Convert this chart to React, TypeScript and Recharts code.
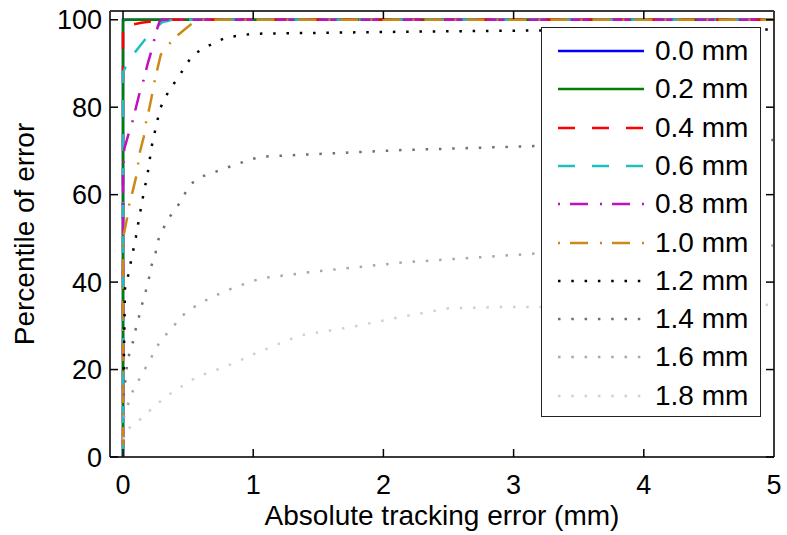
import { Line, LineChart, XAxis, YAxis } from "recharts";

const FONT = '"Liberation Sans", Arial, Helvetica, sans-serif';

const X_TICKS = [0, 1, 2, 3, 4, 5];
const Y_TICKS = [0, 20, 40, 60, 80, 100];

// [absolute tracking error (mm), percentile]
const ERR_00: [number, number][] = [[0, 0], [0, 100], [5, 100]];
const ERR_02: [number, number][] = [[0, 0], [0, 99.8], [0.02, 100], [5, 100]];
const ERR_04: [number, number][] = [[0, 0], [0, 98.5], [0.14, 99.3], [0.27, 99.8], [0.3, 100], [5, 100]];
const ERR_06: [number, number][] = [
  [0, 0], [0, 88], [0.05, 91], [0.13, 94], [0.21, 97], [0.3, 99.4], [0.38, 100], [5, 100],
];
const ERR_08: [number, number][] = [
  [0, 0], [0, 65], [0.01, 70.5], [0.04, 73.6], [0.07, 76.4], [0.1, 80], [0.125, 83],
  [0.156, 86], [0.19, 90], [0.21, 92], [0.26, 97.7], [0.28, 99.6], [0.3, 100], [5, 100],
];
const ERR_10: [number, number][] = [
  [0, 0], [0, 50], [0.03, 54.5], [0.046, 57.5], [0.08, 61.5], [0.1, 64], [0.13, 69.8],
  [0.16, 73.3], [0.175, 76.3], [0.2, 79.5], [0.22, 82.4], [0.24, 85.6], [0.27, 89.5],
  [0.29, 92], [0.35, 94.3], [0.41, 96.2], [0.52, 98.9], [0.58, 100], [5, 100],
];
const ERR_12: [number, number][] = [
  [0.005, 20], [0.015, 38.5], [0.04, 41.6], [0.06, 44.6], [0.08, 47.5], [0.1, 50.5],
  [0.12, 54], [0.135, 56.5], [0.15, 59], [0.19, 65], [0.22, 71], [0.26, 76.5], [0.29, 80],
  [0.32, 82], [0.37, 84.6], [0.43, 87], [0.48, 89.6], [0.54, 92], [0.62, 93.5], [0.72, 95],
  [0.8, 96], [1, 96.8], [2, 97.2], [3, 97.5], [5, 97.8],
];
const ERR_14: [number, number][] = [
  [0.005, 14], [0.03, 21], [0.05, 23.8], [0.08, 26.7], [0.1, 29.6], [0.125, 32.4],
  [0.15, 35.3], [0.175, 38], [0.2, 41], [0.22, 43.9], [0.25, 46.7], [0.27, 49.6],
  [0.31, 52.3], [0.36, 55], [0.42, 57.4], [0.47, 60], [0.52, 62.4], [0.59, 64],
  [0.69, 65], [0.78, 66], [0.88, 67], [0.97, 68], [1.07, 68.7], [1.5, 69.3],
  [2.15, 70.2], [3.15, 71.1], [4, 71.8], [5, 72.5],
];
const ERR_16: [number, number][] = [
  [0.005, 9], [0.067, 14.6], [0.11, 17], [0.16, 19.7], [0.21, 22.3], [0.25, 24.8],
  [0.31, 27.4], [0.38, 29.5], [0.44, 32], [0.52, 33.8], [0.6, 35.3], [0.69, 36.6],
  [0.78, 37.9], [0.88, 39], [0.97, 40], [1.07, 40.9], [1.5, 42.5], [2.15, 44.5],
  [3.15, 46.5], [4, 47.5], [5, 48.4],
];
const ERR_18: [number, number][] = [
  [0.005, 4], [0.015, 6], [0.1, 7.7], [0.17, 9.7], [0.25, 11.8], [0.32, 13.6],
  [0.41, 15.4], [0.49, 16.9], [0.57, 18.4], [0.67, 19.4], [0.76, 20.4], [0.86, 21.6],
  [0.95, 22.8], [1.04, 24], [1.36, 27.8], [1.75, 29.7], [2.13, 32], [2.5, 34],
  [2.9, 34.3], [3.18, 34.3], [4, 34.6], [5, 34.8],
];

const DASHED = "17 17";
const DASH_DOT = "2 10 18 12";
const DOTTED = "2.5 10.8";

const SERIES = [
  { name: "0.0 mm", points: ERR_00, color: "#0000ff", dash: undefined },
  { name: "0.2 mm", points: ERR_02, color: "#008000", dash: undefined },
  { name: "0.4 mm", points: ERR_04, color: "#ff0000", dash: DASHED },
  { name: "0.6 mm", points: ERR_06, color: "#1fbfbf", dash: DASHED },
  { name: "0.8 mm", points: ERR_08, color: "#c010c0", dash: DASH_DOT },
  { name: "1.0 mm", points: ERR_10, color: "#cc8a14", dash: DASH_DOT },
  { name: "1.2 mm", points: ERR_12, color: "#000000", dash: DOTTED },
  { name: "1.4 mm", points: ERR_14, color: "#707070", dash: DOTTED },
  { name: "1.6 mm", points: ERR_16, color: "#a8a8a8", dash: DOTTED },
  { name: "1.8 mm", points: ERR_18, color: "#d0d0d0", dash: DOTTED },
];

const toRows = (pts: [number, number][]) => pts.map(([x, y]) => ({ x, y }));

const AXIS_LINE = { stroke: "#3a3a3a", strokeWidth: 2 };
const TICK_LINE = { stroke: "#000", strokeWidth: 1.5 };
const TICK_TEXT = { fontSize: 27, fill: "#000", fontFamily: FONT };
const hidden = () => <g />;

function LegendBox() {
  return (
    <div
      style={{
        position: "absolute",
        left: 541,
        top: 27,
        width: 220,
        height: 390,
        boxSizing: "border-box",
        border: "1.5px solid #222",
        background: "#fff",
      }}
    >
      {SERIES.map((s, i) => (
        <div
          key={s.name}
          style={{
            position: "absolute",
            left: 16,
            top: 4 + i * 38.3,
            height: 38,
            display: "flex",
            alignItems: "center",
          }}
        >
          <svg width={86} height={10} style={{ display: "block" }}>
            <line x1={0} y1={5} x2={86} y2={5} stroke={s.color} strokeWidth={2.5} strokeDasharray={s.dash} />
          </svg>
          <span style={{ marginLeft: 11, fontSize: 28, lineHeight: 1, color: "#000", fontFamily: FONT }}>{s.name}</span>
        </div>
      ))}
    </div>
  );
}

export default function App() {
  return (
    <div style={{ position: "absolute", left: 0, top: 0, width: 787, height: 535, background: "#fff", fontFamily: FONT }}>
      <LineChart width={787} height={535} margin={{ top: 0, right: 0, bottom: 0, left: 0 }}>
        <XAxis
          type="number"
          dataKey="x"
          domain={[-0.1, 5]}
          ticks={X_TICKS}
          allowDataOverflow
          height={78}
          axisLine={AXIS_LINE}
          tickLine={TICK_LINE}
          tickSize={-8}
          tickMargin={26}
          tick={TICK_TEXT}
          label={{ value: "Absolute tracking error (mm)", position: "insideBottom", offset: 10, fontSize: 28, fill: "#000", fontFamily: FONT }}
        />
        <XAxis
          xAxisId="top"
          orientation="top"
          type="number"
          dataKey="x"
          domain={[-0.1, 5]}
          ticks={X_TICKS}
          allowDataOverflow
          height={11}
          axisLine={AXIS_LINE}
          tickLine={TICK_LINE}
          tickSize={-8}
          tick={hidden}
        />
        <YAxis
          type="number"
          dataKey="y"
          domain={[0, 102]}
          ticks={Y_TICKS}
          allowDataOverflow
          width={110}
          axisLine={AXIS_LINE}
          tickLine={TICK_LINE}
          tickSize={-8}
          tickMargin={16}
          tick={TICK_TEXT}
          label={{ value: "Percentile of error", angle: -90, position: "insideLeft", offset: 24, fontSize: 28, fill: "#000", fontFamily: FONT, style: { textAnchor: "middle" } }}
        />
        <YAxis
          yAxisId="right"
          orientation="right"
          type="number"
          dataKey="y"
          domain={[0, 102]}
          ticks={Y_TICKS}
          allowDataOverflow
          width={13}
          axisLine={AXIS_LINE}
          tickLine={TICK_LINE}
          tickSize={-8}
          tick={hidden}
        />
        {SERIES.map((s) => (
          <Line
            key={s.name}
            name={s.name}
            data={toRows(s.points)}
            dataKey="y"
            type="linear"
            stroke={s.color}
            strokeWidth={2.5}
            strokeDasharray={s.dash}
            dot={false}
            activeDot={false}
            isAnimationActive={false}
          />
        ))}
      </LineChart>
      <LegendBox />
    </div>
  );
}
